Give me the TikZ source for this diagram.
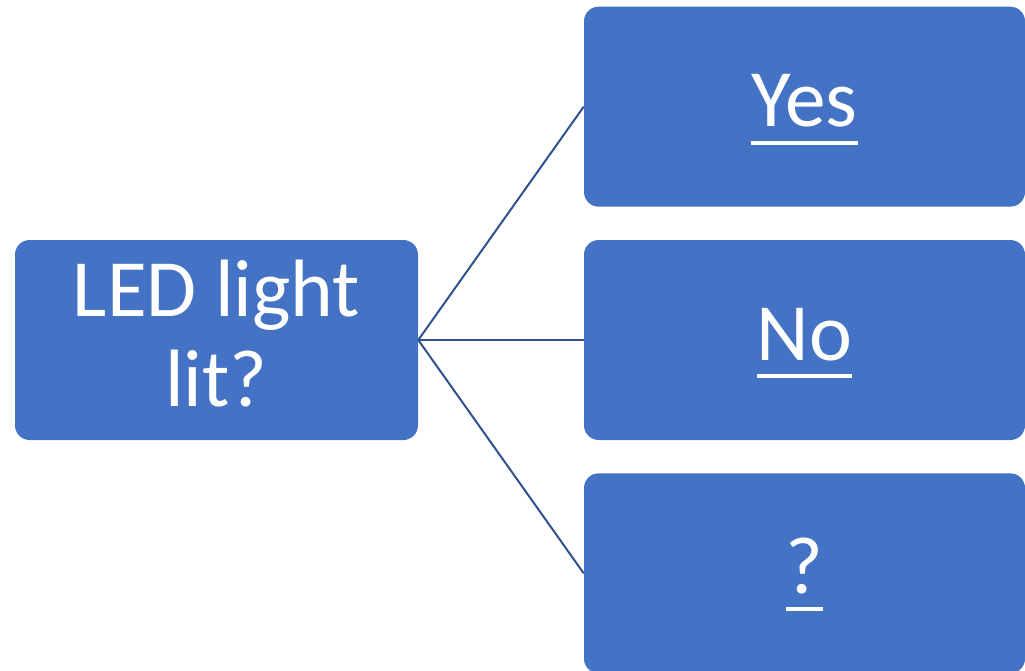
\documentclass[tikz,border=0pt]{standalone}
\usepackage{fontspec}
\setmainfont{Carlito}
\usetikzlibrary{positioning}

\definecolor{boxblue}{HTML}{4472C4}
\definecolor{lineblue}{HTML}{2F528F}
\newcommand\undl[1]{\setbox0\hbox{#1}\rlap{\smash{\rule[-13.5pt]{\wd0}{3pt}}}\box0}

\begin{document}
\begin{tikzpicture}[%
            x=0.75pt, y=-0.75pt,
            node distance=441pt,
            on grid,
            choice/.style={rectangle, rounded corners=11pt, fill=boxblue, text=white,
              inner sep=0pt, minimum width=330.75pt, minimum height=150pt,
              font=\fontsize{61}{68}\selectfont, text height=44pt, text depth=14pt},
            question/.style={choice, minimum width=302.25pt, align=center,
              text height=, text depth=},
            branch/.style={draw=lineblue, line width=1.5pt}
            ]
            \useasboundingbox (0,0) rectangle (1025,671);
            \node[question] (led) at (216.5,340)
              {\rule{0pt}{46pt}LED light\\lit?\rule[-14pt]{0pt}{14pt}};
            \node[choice] (no) [right=of led] {\undl{No}};
            \node[choice] (yes) [above=175pt of no] {\undl{Yes}};
            \node[choice] (unsure) [below=175pt of no] {\undl{?}};

            \path[branch] (led.east) edge (yes.west);
            \path[branch] (led.east) edge (no.west);
            \path[branch] (led.east) edge (unsure.west);
        \end{tikzpicture}
\end{document}
